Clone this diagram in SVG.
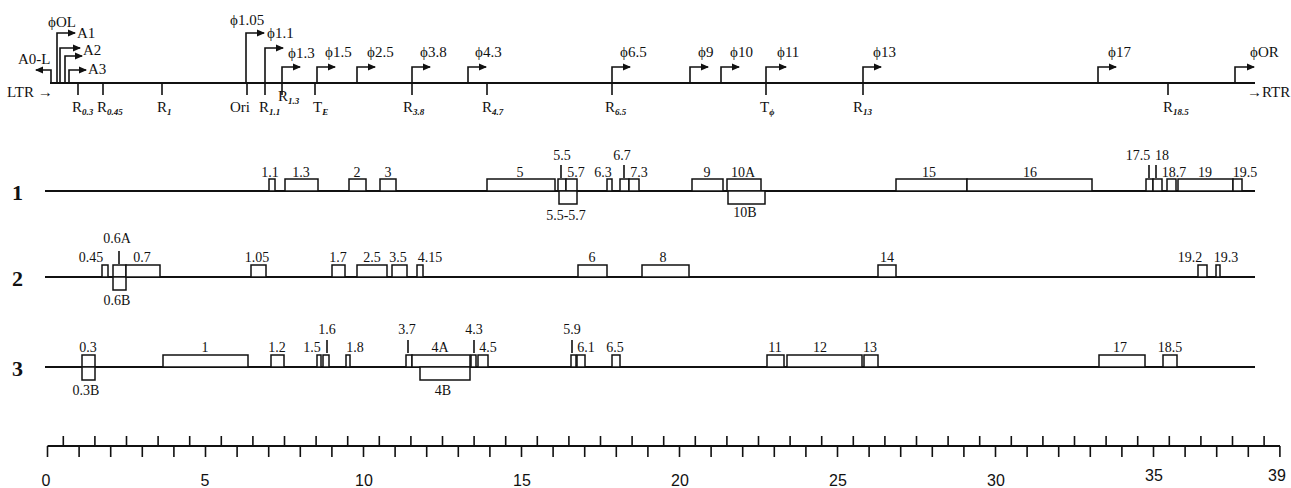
<svg xmlns="http://www.w3.org/2000/svg" width="1291" height="488" viewBox="0 0 1291 488">
<style>
.ln{stroke:#111;stroke-width:2;fill:none}
.tk{stroke:#111;stroke-width:1.6;fill:none}
.pr{stroke:#111;stroke-width:1.6;fill:none}
.bx{fill:#fff;stroke:#111;stroke-width:1.5}
text{font-family:"Liberation Serif","Times New Roman","DejaVu Serif",serif;fill:#111}
.g{font-size:14px;text-anchor:middle}
.p{font-size:15px}
.r{font-size:15px}
.sub{font-size:9px;font-style:italic;font-weight:bold}
.row{font-size:22px;font-weight:bold}
.sc{font-family:"Liberation Sans",Arial,sans-serif;font-size:16px;text-anchor:middle}
</style>
<defs>
<marker id="ah" markerWidth="8" markerHeight="8" refX="7" refY="4" orient="auto" markerUnits="userSpaceOnUse"><path d="M0,0.5 L8,4 L0,7.5 z" fill="#111"/></marker>
</defs>

<g id="genome-map">
<line class="ln" x1="50" y1="83" x2="1255" y2="83"/>
<text class="r" x="7" y="97">LTR →</text>
<text class="r" x="1247" y="97">→RTR</text>
<path class="tk" d="M78,83V95M103,83V95M162,83V95M247,83V95M265,83V95M282,83V95M315,83V95M412,83V95M487,83V95M612,83V95M766,83V95M863,83V95M1168,83V95"/>
<text class="r" x="72" y="112">R<tspan class="sub" dy="3">0.3</tspan></text>
<text class="r" x="97" y="112">R<tspan class="sub" dy="3">0.45</tspan></text>
<text class="r" x="157" y="112">R<tspan class="sub" dy="3">1</tspan></text>
<text class="r" x="230" y="112">Ori</text>
<text class="r" x="259" y="112">R<tspan class="sub" dy="3">1.1</tspan></text>
<text class="r" x="278" y="101">R<tspan class="sub" dy="3">1.3</tspan></text>
<text class="r" x="313" y="112">T<tspan class="sub" dy="3">E</tspan></text>
<text class="r" x="403" y="112">R<tspan class="sub" dy="3">3.8</tspan></text>
<text class="r" x="482" y="112">R<tspan class="sub" dy="3">4.7</tspan></text>
<text class="r" x="605" y="112">R<tspan class="sub" dy="3">6.5</tspan></text>
<text class="r" x="760" y="112">T<tspan class="sub" dy="3">ϕ</tspan></text>
<text class="r" x="853" y="112">R<tspan class="sub" dy="3">13</tspan></text>
<text class="r" x="1163" y="112">R<tspan class="sub" dy="3">18.5</tspan></text>
</g>

<g id="promoters">
<path class="pr" d="M51,83V70H36" marker-end="url(#ah)"/>
<text class="p" x="18" y="64">A0-L</text>
<path class="pr" d="M57,83V33H75" marker-end="url(#ah)"/>
<text class="p" x="48" y="27">ϕOL</text>
<text class="p" x="77" y="38">A1</text>
<path class="pr" d="M60,83V48H80" marker-end="url(#ah)"/>
<path class="pr" d="M65,83V56H82" marker-end="url(#ah)"/>
<text class="p" x="83" y="55">A2</text>
<path class="pr" d="M69,83V70H86" marker-end="url(#ah)"/>
<text class="p" x="88" y="74">A3</text>
<path class="pr" d="M246,83V33H264" marker-end="url(#ah)"/>
<text class="p" x="230" y="25">ϕ1.05</text>
<path class="pr" d="M265,83V48H283" marker-end="url(#ah)"/>
<text class="p" x="267" y="38">ϕ1.1</text>
<path class="pr" d="M282,83V67H300" marker-end="url(#ah)"/>
<text class="p" x="288" y="58">ϕ1.3</text>
<path class="pr" d="M317,83V67H335" marker-end="url(#ah)"/>
<text class="p" x="325" y="57">ϕ1.5</text>
<path class="pr" d="M357,83V67H375" marker-end="url(#ah)"/>
<text class="p" x="367" y="57">ϕ2.5</text>
<path class="pr" d="M412,83V67H430" marker-end="url(#ah)"/>
<text class="p" x="420" y="57">ϕ3.8</text>
<path class="pr" d="M468,83V67H486" marker-end="url(#ah)"/>
<text class="p" x="475" y="57">ϕ4.3</text>
<path class="pr" d="M612,83V67H630" marker-end="url(#ah)"/>
<text class="p" x="620" y="57">ϕ6.5</text>
<path class="pr" d="M690,83V67H708" marker-end="url(#ah)"/>
<text class="p" x="698" y="57">ϕ9</text>
<path class="pr" d="M721,83V67H739" marker-end="url(#ah)"/>
<text class="p" x="730" y="57">ϕ10</text>
<path class="pr" d="M766,83V67H786" marker-end="url(#ah)"/>
<text class="p" x="777" y="57">ϕ11</text>
<path class="pr" d="M863,83V67H881" marker-end="url(#ah)"/>
<text class="p" x="873" y="57">ϕ13</text>
<path class="pr" d="M1098,83V67H1116" marker-end="url(#ah)"/>
<text class="p" x="1108" y="57">ϕ17</text>
<path class="pr" d="M1235,83V67H1254" marker-end="url(#ah)"/>
<text class="p" x="1250" y="57">ϕOR</text>
</g>

<g id="row1">
<text class="row" x="12" y="200">1</text>
<line class="ln" x1="45" y1="191" x2="1255" y2="191"/>
<rect class="bx" x="269" y="179" width="6" height="12"/>
<rect class="bx" x="285" y="179" width="33" height="12"/>
<rect class="bx" x="349" y="179" width="17" height="12"/>
<rect class="bx" x="380" y="179" width="16" height="12"/>
<rect class="bx" x="487" y="179" width="68" height="12"/>
<rect class="bx" x="558" y="179" width="8" height="12"/>
<rect class="bx" x="566" y="179" width="11" height="12"/>
<rect class="bx" x="559" y="191" width="18" height="13"/>
<rect class="bx" x="607" y="179" width="5" height="12"/>
<rect class="bx" x="620" y="179" width="9" height="12"/>
<rect class="bx" x="629" y="179" width="10" height="12"/>
<rect class="bx" x="692" y="179" width="31" height="12"/>
<rect class="bx" x="727" y="179" width="34" height="12"/>
<rect class="bx" x="728" y="191" width="37" height="13"/>
<rect class="bx" x="896" y="179" width="71" height="12"/>
<rect class="bx" x="967" y="179" width="125" height="12"/>
<rect class="bx" x="1146" y="179" width="7" height="12"/>
<rect class="bx" x="1153" y="179" width="9" height="12"/>
<rect class="bx" x="1167" y="179" width="9" height="12"/>
<rect class="bx" x="1178" y="179" width="55" height="12"/>
<rect class="bx" x="1233" y="179" width="9" height="12"/>
<path class="tk" d="M561,165V178M624,165V178M1149,165V178M1156,165V178"/>
<text class="g" x="270" y="177">1.1</text>
<text class="g" x="301" y="177">1.3</text>
<text class="g" x="357" y="177">2</text>
<text class="g" x="388" y="177">3</text>
<text class="g" x="520" y="177">5</text>
<text class="g" x="562" y="160">5.5</text>
<text class="g" x="576" y="177">5.7</text>
<text class="g" x="566" y="220">5.5-5.7</text>
<text class="g" x="603" y="177">6.3</text>
<text class="g" x="622" y="160">6.7</text>
<text class="g" x="639" y="177">7.3</text>
<text class="g" x="707" y="177">9</text>
<text class="g" x="743" y="177">10A</text>
<text class="g" x="745" y="217">10B</text>
<text class="g" x="929" y="177">15</text>
<text class="g" x="1030" y="177">16</text>
<text class="g" x="1138" y="160">17.5</text>
<text class="g" x="1162" y="160">18</text>
<text class="g" x="1174" y="177">18.7</text>
<text class="g" x="1205" y="177">19</text>
<text class="g" x="1245" y="177">19.5</text>
</g>

<g id="row2">
<text class="row" x="12" y="286">2</text>
<line class="ln" x1="45" y1="277" x2="1255" y2="277"/>
<rect class="bx" x="102" y="265" width="6" height="12"/>
<rect class="bx" x="113" y="265" width="13" height="12"/>
<rect class="bx" x="113" y="277" width="13" height="13"/>
<rect class="bx" x="126" y="265" width="34" height="12"/>
<rect class="bx" x="251" y="265" width="15" height="12"/>
<rect class="bx" x="332" y="265" width="13" height="12"/>
<rect class="bx" x="357" y="265" width="30" height="12"/>
<rect class="bx" x="392" y="265" width="15" height="12"/>
<rect class="bx" x="417" y="265" width="6" height="12"/>
<rect class="bx" x="578" y="265" width="29" height="12"/>
<rect class="bx" x="642" y="265" width="47" height="12"/>
<rect class="bx" x="878" y="265" width="18" height="12"/>
<rect class="bx" x="1198" y="265" width="9" height="12"/>
<rect class="bx" x="1216" y="265" width="4" height="12"/>
<path class="tk" d="M119,251V264"/>
<text class="g" x="91" y="262">0.45</text>
<text class="g" x="117" y="243">0.6A</text>
<text class="g" x="117" y="305">0.6B</text>
<text class="g" x="142" y="262">0.7</text>
<text class="g" x="257" y="262">1.05</text>
<text class="g" x="338" y="262">1.7</text>
<text class="g" x="372" y="262">2.5</text>
<text class="g" x="398" y="262">3.5</text>
<text class="g" x="430" y="262">4.15</text>
<text class="g" x="592" y="262">6</text>
<text class="g" x="663" y="262">8</text>
<text class="g" x="887" y="262">14</text>
<text class="g" x="1190" y="262">19.2</text>
<text class="g" x="1226" y="262">19.3</text>
</g>

<g id="row3">
<text class="row" x="12" y="376">3</text>
<line class="ln" x1="45" y1="367" x2="1255" y2="367"/>
<rect class="bx" x="82" y="355" width="13" height="12"/>
<rect class="bx" x="82" y="367" width="13" height="13"/>
<rect class="bx" x="163" y="355" width="85" height="12"/>
<rect class="bx" x="271" y="355" width="13" height="12"/>
<rect class="bx" x="317" y="355" width="4" height="12"/>
<rect class="bx" x="323" y="355" width="6" height="12"/>
<rect class="bx" x="346" y="355" width="4" height="12"/>
<rect class="bx" x="406" y="355" width="6" height="12"/>
<rect class="bx" x="412" y="355" width="58" height="12"/>
<rect class="bx" x="420" y="367" width="50" height="13"/>
<rect class="bx" x="471" y="355" width="5" height="12"/>
<rect class="bx" x="478" y="355" width="10" height="12"/>
<rect class="bx" x="571" y="355" width="5" height="12"/>
<rect class="bx" x="577" y="355" width="8" height="12"/>
<rect class="bx" x="612" y="355" width="8" height="12"/>
<rect class="bx" x="767" y="355" width="17" height="12"/>
<rect class="bx" x="787" y="355" width="75" height="12"/>
<rect class="bx" x="864" y="355" width="14" height="12"/>
<rect class="bx" x="1099" y="355" width="46" height="12"/>
<rect class="bx" x="1163" y="355" width="14" height="12"/>
<path class="tk" d="M327,340V353M408,340V353M474,340V353M572,340V353"/>
<text class="g" x="88" y="352">0.3</text>
<text class="g" x="86" y="395">0.3B</text>
<text class="g" x="205" y="352">1</text>
<text class="g" x="277" y="352">1.2</text>
<text class="g" x="312" y="352">1.5</text>
<text class="g" x="327" y="334">1.6</text>
<text class="g" x="355" y="352">1.8</text>
<text class="g" x="407" y="334">3.7</text>
<text class="g" x="440" y="352">4A</text>
<text class="g" x="443" y="395">4B</text>
<text class="g" x="474" y="334">4.3</text>
<text class="g" x="488" y="352">4.5</text>
<text class="g" x="572" y="334">5.9</text>
<text class="g" x="586" y="352">6.1</text>
<text class="g" x="615" y="352">6.5</text>
<text class="g" x="775" y="352">11</text>
<text class="g" x="820" y="352">12</text>
<text class="g" x="870" y="352">13</text>
<text class="g" x="1120" y="352">17</text>
<text class="g" x="1170" y="352">18.5</text>
</g>

<g id="scale">
<line class="ln" x1="47.5" y1="446" x2="1280" y2="446"/>
<path class="tk" d="M47.5,446V457M79.1,446V457M110.7,446V457M142.3,446V457M173.9,446V457M205.5,446V457M237.1,446V457M268.7,446V457M300.3,446V457M331.9,446V457M363.5,446V457M395.1,446V457M426.7,446V457M458.3,446V457M489.9,446V457M521.5,446V457M553.1,446V457M584.7,446V457M616.3,446V457M647.9,446V457M679.5,446V457M711.1,446V457M742.7,446V457M774.3,446V457M805.9,446V457M837.5,446V457M869.1,446V457M900.7,446V457M932.3,446V457M963.9,446V457M995.5,446V457M1027.1,446V457M1058.7,446V457M1090.3,446V457M1121.9,446V457M1153.5,446V457M1185.1,446V457M1216.7,446V457M1248.3,446V457M1279.9,446V457"/>
<path class="tk" d="M63.3,446V436M94.9,446V436M126.5,446V436M158.1,446V436M189.7,446V436M221.3,446V436M252.9,446V436M284.5,446V436M316.1,446V436M347.7,446V436M379.3,446V436M410.9,446V436M442.5,446V436M474.1,446V436M505.7,446V436M537.3,446V436M568.9,446V436M600.5,446V436M632.1,446V436M663.7,446V436M695.3,446V436M726.9,446V436M758.5,446V436M790.1,446V436M821.7,446V436M853.3,446V436M884.9,446V436M916.5,446V436M948.1,446V436M979.7,446V436M1011.3,446V436M1042.9,446V436M1074.5,446V436M1106.1,446V436M1137.7,446V436M1169.3,446V436M1200.9,446V436M1232.5,446V436M1264.1,446V436"/>
<text class="sc" x="46" y="486">0</text>
<text class="sc" x="205" y="486">5</text>
<text class="sc" x="364" y="486">10</text>
<text class="sc" x="522" y="486">15</text>
<text class="sc" x="680" y="486">20</text>
<text class="sc" x="838" y="486">25</text>
<text class="sc" x="996" y="486">30</text>
<text class="sc" x="1154" y="481">35</text>
<text class="sc" x="1277" y="481">39</text>
</g>
</svg>
